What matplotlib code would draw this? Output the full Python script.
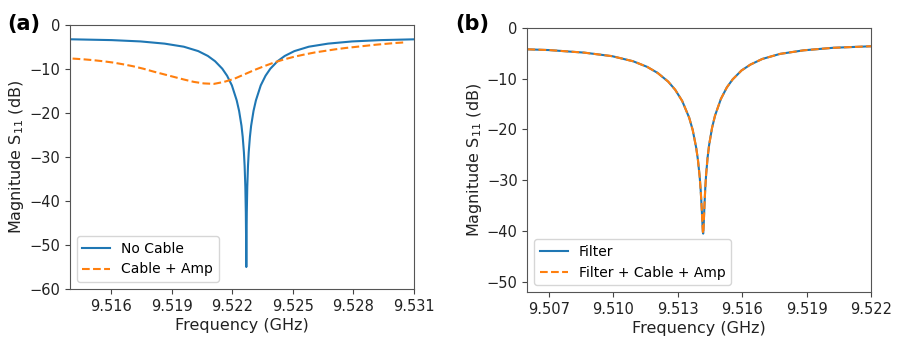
import matplotlib
matplotlib.use("Agg")
import matplotlib.pyplot as plt

# (a) resonance without cable, and with cable + amplifier
freq_no_cable = [9.51397, 9.516036, 9.517464, 9.518654, 9.519606, 9.52032, 9.520796, 9.521153,
                 9.52151, 9.521748, 9.521986, 9.522224, 9.522343, 9.522462, 9.5225215, 9.522581,
                 9.5226167, 9.5226524, 9.5226762, 9.5226881, 9.5227,
                 9.5227119, 9.5227238, 9.5227476, 9.5227833, 9.522819, 9.5228785, 9.522938,
                 9.523057, 9.523176, 9.523414, 9.523652, 9.52389, 9.524247, 9.524604,
                 9.52508, 9.525794, 9.526746, 9.527936, 9.529364, 9.531]
db_no_cable = [-3.21, -3.4, -3.7, -4.2, -4.9, -5.9, -7.0, -8.2,
               -9.9, -11.5, -13.7, -17.1, -19.5, -22.9, -25.4, -28.9,
               -32.0, -36.8, -42.6, -48.0, -55.0,
               -48.0, -42.6, -36.8, -32.0, -28.9, -25.4, -22.9,
               -19.5, -17.1, -13.7, -11.5, -9.9, -8.2, -7.0,
               -5.9, -4.9, -4.2, -3.7, -3.4, -3.22]

freq_cable_amp = [9.5141, 9.5146, 9.5151, 9.5156, 9.5161, 9.5166, 9.5171, 9.5176,
                  9.5181, 9.5186, 9.5191, 9.5196, 9.5201, 9.5206, 9.5211, 9.5216,
                  9.5221, 9.5226, 9.5231, 9.5236, 9.5241, 9.5246, 9.5251, 9.5256,
                  9.5261, 9.5266, 9.5271, 9.5276, 9.5281, 9.5286, 9.5291, 9.5296,
                  9.5301, 9.5306]
db_cable_amp = [-7.6, -7.75, -7.95, -8.2, -8.5, -8.9, -9.35, -9.9,
                -10.55, -11.15, -11.75, -12.35, -12.9, -13.25, -13.35, -12.9,
                -12.2, -11.2, -10.2, -9.3, -8.45, -7.75, -7.15, -6.65,
                -6.2, -5.85, -5.5, -5.2, -4.95, -4.7, -4.45, -4.25,
                -4.05, -3.9]

# (b) with filter; the two traces lie on top of each other
freq_filter = [9.50601, 9.507018, 9.508648, 9.509952, 9.51093, 9.511582, 9.512071, 9.51256,
               9.512886, 9.513212, 9.513538, 9.513701, 9.513864, 9.5139455, 9.514027, 9.5140759,
               9.5141248, 9.5141574, 9.5141737, 9.51419,
               9.5142038, 9.5142175, 9.514245, 9.5142863, 9.5143275, 9.5143963, 9.514465,
               9.5146025, 9.51474, 9.515015, 9.51529, 9.515565, 9.5159775, 9.51639,
               9.51694, 9.517765, 9.518865, 9.52024, 9.522]
db_filter = [-4.25, -4.4, -4.9, -5.6, -6.6, -7.7, -8.9, -10.6,
             -12.2, -14.4, -17.7, -20.1, -23.6, -26.0, -29.3, -32.1,
             -35.8, -38.8, -40.1, -40.5,
             -39.6, -38.35, -35.4, -31.6, -28.85, -25.5, -23.1,
             -19.7, -17.3, -14.0, -11.75, -10.15, -8.4, -7.25,
             -6.15, -5.15, -4.45, -3.95, -3.65]
db_filter_cable_amp = list(db_filter)

xticks_a = [9.516, 9.519, 9.522, 9.525, 9.528, 9.531]
xticks_b = [9.507, 9.510, 9.513, 9.516, 9.519, 9.522]
yticks_a = [-60, -50, -40, -30, -20, -10, 0]
yticks_b = [-50, -40, -30, -20, -10, 0]

blue = '#1f77b4'
orange = '#ff7f0e'

fig = plt.figure(figsize=(8.97, 3.4), dpi=100)
ax1 = fig.add_axes([0.078, 0.150, 0.3835, 0.776])
ax2 = fig.add_axes([0.588, 0.141, 0.383, 0.7775])

# Panel (a)
ax1.plot(freq_no_cable, db_no_cable, color=blue, linewidth=1.5, label='No Cable')
ax1.plot(freq_cable_amp, db_cable_amp, color=orange, linewidth=1.5, linestyle='--', label='Cable + Amp')
ax1.set_xlim(9.51397, 9.531)
ax1.set_ylim(-60, 0)
ax1.set_xticks(xticks_a)
ax1.set_xticklabels(['%.3f' % t for t in xticks_a])
ax1.set_yticks(yticks_a)

# Panel (b)
ax2.plot(freq_filter, db_filter, color=blue, linewidth=1.5, label='Filter')
ax2.plot(freq_filter, db_filter_cable_amp, color=orange, linewidth=1.5, linestyle='--', label='Filter + Cable + Amp')
ax2.set_xlim(9.50601, 9.522)
ax2.set_ylim(-52, 0)
ax2.set_xticks(xticks_b)
ax2.set_xticklabels(['%.3f' % t for t in xticks_b])
ax2.set_yticks(yticks_b)

for ax in (ax1, ax2):
    ax.set_xlabel('Frequency (GHz)', fontsize=11.5, labelpad=3, color='#222222')
    ax.set_ylabel('Magnitude S$_{11}$ (dB)', fontsize=11.5, labelpad=2, color='#222222')
    ax.tick_params(axis='both', which='major', labelsize=10.5, color='#444444', labelcolor='#222222')
    for sp in ax.spines.values():
        sp.set_color('#555555')
    ax.legend(loc='lower left', fontsize=10)

fig.text(0.008, 0.912, '(a)', fontsize=15, fontweight='bold')
fig.text(0.508, 0.912, '(b)', fontsize=15, fontweight='bold')

plt.savefig('out.png', dpi=100)
